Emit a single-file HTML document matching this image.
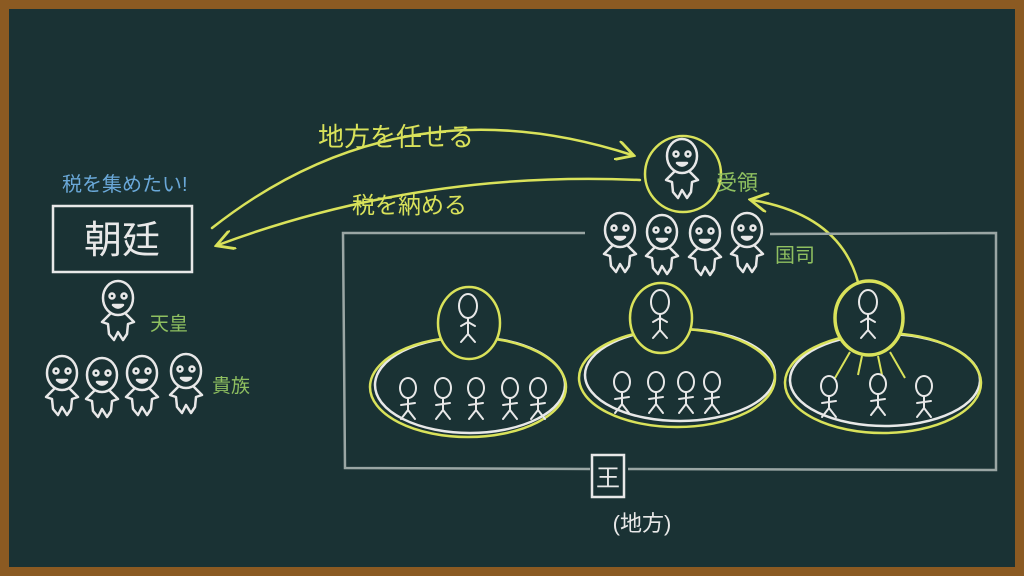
<!DOCTYPE html>
<html><head><meta charset="utf-8"><style>
html,body{margin:0;padding:0;background:#8b5a22}
svg{display:block}
text{font-family:"Liberation Sans","Noto Sans CJK JP",sans-serif}
</style></head><body>
<svg width="1024" height="576" viewBox="0 0 1024 576" xmlns="http://www.w3.org/2000/svg">
<defs>
<g id="big" fill="none" stroke="#e8e8e8" stroke-width="2.5" stroke-linecap="round" stroke-linejoin="round">
<ellipse cx="0" cy="-12" rx="15" ry="17"/>
<circle cx="-6" cy="-14" r="2.5"/><circle cx="6" cy="-14" r="2.5"/>
<path d="M-5,-5 Q0,0 5,-5 Z"/>
<path d="M-8,4 L-16,12 L-10,14 L-9,24 L-4,30 L0,22 L5,30 L9,24 L10,14 L16,12 L8,4"/>
</g>
<g id="stick" fill="none" stroke="#e8e8e8" stroke-width="2" stroke-linecap="round">
<ellipse cx="0" cy="-12" rx="8" ry="10"/>
<path d="M0,-2 L0,10 M-7,5 L7,3 M0,10 L-7,19 M0,10 L7,19"/>
</g>
<g id="tall" fill="none" stroke="#e8e8e8" stroke-width="2" stroke-linecap="round">
<ellipse cx="0" cy="-14" rx="9" ry="12"/>
<path d="M0,-2 L0,14 M-7,6 L0,2 L7,6 M0,14 L-7,22 M0,14 L7,22"/>
</g>
<marker id="ah" viewBox="0 0 10 10" refX="8" refY="5" markerWidth="8" markerHeight="8" orient="auto">
<path d="M0,0 L9,5 L0,10" fill="none" stroke="#d9e25a" stroke-width="1.4"/>
</marker>
</defs>
<rect x="9" y="9" width="1006" height="558" fill="#1a3234"/>

<text x="62" y="191" font-size="20" fill="#6aa8d8">税を集めたい!</text>
<rect x="53" y="206" width="139" height="66" fill="none" stroke="#e8e8e8" stroke-width="2.5"/>
<text x="122" y="253" font-size="38" fill="#e8e8e8" text-anchor="middle">朝廷</text>
<use href="#big" x="118" y="310"/>
<text x="150" y="330" font-size="19" fill="#8fc060">天皇</text>
<use href="#big" x="62" y="385"/><use href="#big" x="102" y="387"/><use href="#big" x="142" y="385"/><use href="#big" x="186" y="383"/>
<text x="212" y="392" font-size="19" fill="#8fc060">貴族</text>

<g fill="none" stroke="#d9e25a" stroke-width="2.5" stroke-linecap="round">
<path d="M212,228 Q400,80 632,155" marker-end="url(#ah)"/>
<path d="M640,180 Q420,170 218,245" marker-end="url(#ah)"/>
<path d="M858,282 Q840,215 752,200" marker-end="url(#ah)"/>
</g>
<text x="318" y="146" font-size="26" fill="#d9e25a">地方を任せる</text>
<text x="352" y="213" font-size="23" fill="#d9e25a">税を納める</text>

<circle cx="683" cy="174" r="38" fill="none" stroke="#d9e25a" stroke-width="2.5"/>
<use href="#big" x="682" y="168"/>
<text x="716" y="190" font-size="21" fill="#8fc060">受領</text>
<use href="#big" x="620" y="242"/><use href="#big" x="662" y="244"/><use href="#big" x="705" y="245"/><use href="#big" x="747" y="242"/>
<text x="775" y="262" font-size="20" fill="#8fc060">国司</text>

<path d="M585,233 L343,233 L345,468 L590,469 M628,469 L996,470 L996,233 L770,234" fill="none" stroke="#9aa6a4" stroke-width="2.5"/>
<rect x="592" y="455" width="32" height="42" fill="none" stroke="#e8e8e8" stroke-width="2.5"/>
<text x="608" y="486" font-size="24" fill="#e8e8e8" text-anchor="middle">王</text>
<text x="642" y="531" font-size="22" fill="#e8e8e8" text-anchor="middle">(地方)</text>

<g fill="none" stroke-width="2.5">
<ellipse cx="470" cy="385" rx="95" ry="48" stroke="#e8e8e8"/>
<ellipse cx="468" cy="387" rx="98" ry="50" stroke="#d9e25a"/>
<ellipse cx="680" cy="375" rx="95" ry="46" stroke="#e8e8e8"/>
<ellipse cx="677" cy="378" rx="98" ry="49" stroke="#d9e25a"/>
<ellipse cx="885" cy="380" rx="95" ry="46" stroke="#e8e8e8"/>
<ellipse cx="883" cy="383" rx="98" ry="50" stroke="#d9e25a"/>
<ellipse cx="469" cy="323" rx="31" ry="36" fill="#1a3234" stroke="#d9e25a"/>
<ellipse cx="661" cy="318" rx="31" ry="35" fill="#1a3234" stroke="#d9e25a"/>
<ellipse cx="869" cy="318" rx="34" ry="37" fill="#1a3234" stroke="#d9e25a" stroke-width="3.5"/>
<path d="M850,352 L835,378 M862,356 L858,375 M878,356 L882,375 M890,352 L905,378" stroke="#d9e25a" stroke-width="2"/>
</g>
<use href="#tall" x="468" y="320"/><use href="#tall" x="660" y="316"/><use href="#tall" x="868" y="316"/>
<use href="#stick" x="408" y="400"/><use href="#stick" x="443" y="400"/><use href="#stick" x="476" y="400"/><use href="#stick" x="510" y="400"/><use href="#stick" x="538" y="400"/>
<use href="#stick" x="622" y="394"/><use href="#stick" x="656" y="394"/><use href="#stick" x="686" y="394"/><use href="#stick" x="712" y="394"/>
<use href="#stick" x="829" y="398"/><use href="#stick" x="878" y="396"/><use href="#stick" x="924" y="398"/>
</svg>
</body></html>
